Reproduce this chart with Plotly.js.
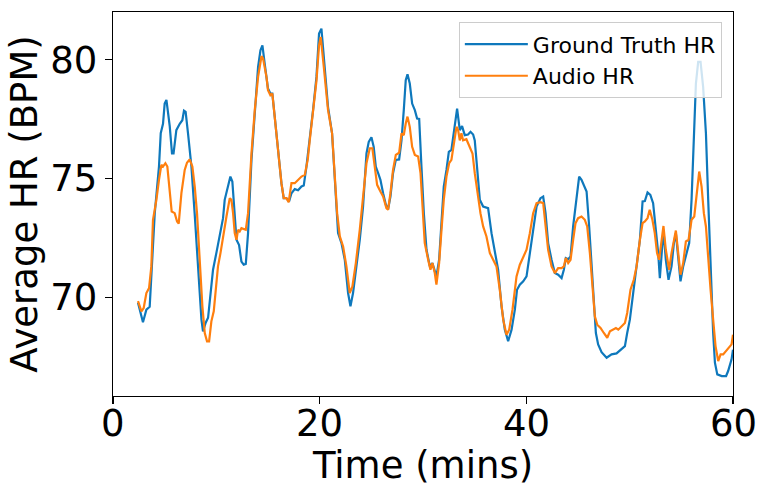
<!DOCTYPE html>
<html>
<head>
<meta charset="utf-8">
<script src="https://cdn.plot.ly/plotly-3.0.1.min.js"></script>
<style>html,body{margin:0;padding:0;background:#fff;}#chart{width:768px;height:498px;}</style>
</head>
<body>
<div id="chart"></div>
<script>
// Ground truth HR (minutes, BPM)
const gtTime = [2.42,2.9,3.23,3.55,4.04,4.45,4.62,4.84,5.0,5.17,5.49,5.71,5.86,6.13,6.46,6.71,6.87,7.03,7.26,7.59,7.9,8.23,8.56,8.71,8.97,9.2,9.36,9.68,10.0,10.33,10.65,10.81,11.13,11.36,11.55,11.78,11.95,12.2,12.43,12.65,12.85,13.07,13.4,13.72,14.04,14.27,14.46,14.68,15.0,15.23,15.42,15.65,15.97,16.3,16.52,16.78,17.04,17.27,17.59,17.91,18.24,18.46,18.72,19.04,19.36,19.69,19.94,20.17,20.49,20.81,21.2,21.46,21.78,22.11,22.43,22.75,22.98,23.23,23.56,23.88,24.2,24.53,24.75,25.01,25.23,25.43,25.66,25.88,26.14,26.4,26.62,26.85,27.1,27.37,27.69,27.92,28.14,28.33,28.5,28.72,28.95,29.21,29.43,29.63,29.85,30.08,30.34,30.66,30.91,31.14,31.3,31.56,31.79,32.01,32.27,32.5,32.75,32.98,33.3,33.56,33.78,34.04,34.36,34.6,34.85,35.01,35.27,35.5,35.82,36.3,36.63,36.95,37.27,37.6,37.92,38.24,38.57,38.89,39.1,39.37,39.7,40.02,40.34,40.66,40.99,41.37,41.63,41.86,42.11,42.44,42.76,43.08,43.41,43.63,43.82,44.05,44.28,44.53,44.76,44.95,45.11,45.34,45.57,45.83,46.08,46.31,46.53,46.73,46.95,47.28,47.77,48.25,48.73,49.22,49.54,49.76,50.02,50.34,50.67,50.99,51.25,51.47,51.73,52.0,52.27,52.5,52.76,52.92,53.08,53.27,53.5,53.76,54.05,54.28,54.47,54.7,54.92,55.18,55.5,55.76,55.99,56.22,56.41,56.63,56.86,57.11,57.38,57.6,57.83,58.08,58.25,58.48,58.91,59.33,59.53,59.86,60.0];
const gtHR = [69.77,68.95,69.48,69.6,73.54,75.5,76.9,77.3,78.15,78.3,77.2,76.05,76.05,77.03,77.3,77.45,77.85,77.8,76.9,75.5,73.54,71.3,69.06,68.57,68.93,69.14,69.9,71.16,71.86,72.7,73.33,74.1,74.66,75.08,74.87,73.54,72.42,72.2,71.5,71.37,71.4,72.7,75.78,77.73,79.69,80.39,80.6,79.83,78.78,78.57,78.57,77.6,76.05,74.8,74.17,74.17,74.03,74.38,74.55,74.5,74.66,74.7,75.5,76.6,77.87,79.27,81.09,81.3,79.69,78.0,76.9,75.2,72.7,72.28,71.58,70.18,69.62,70.18,71.3,72.42,73.82,76.05,76.54,76.73,76.33,75.5,75.22,74.94,74.38,73.9,73.7,74.24,75.22,75.78,75.8,76.6,77.87,79.13,79.38,78.99,78.15,77.87,77.52,77.5,75.5,73.54,72.0,71.3,71.44,71.16,70.88,71.58,72.98,74.66,75.36,76.12,76.2,77.03,77.94,77.03,77.2,76.82,76.85,76.96,76.85,76.6,75.36,74.1,73.82,73.75,72.7,71.86,71.16,69.62,68.64,68.15,68.64,69.48,70.32,70.53,70.67,70.88,71.86,72.98,73.82,74.17,74.24,73.54,72.28,71.58,71.02,70.95,70.81,71.16,71.65,71.6,71.72,72.98,73.82,74.52,75.08,74.94,74.73,74.45,72.98,71.3,69.62,68.5,68.02,67.69,67.46,67.6,67.64,67.81,67.95,68.5,69.06,70.18,71.3,72.42,74.03,74.05,74.41,74.31,73.96,72.98,71.86,70.81,71.86,72.84,71.58,70.74,71.3,72.28,72.7,71.58,70.67,71.3,71.86,72.28,74.1,76.6,78.99,79.9,79.9,78.85,76.9,74.1,71.3,68.5,67.25,66.76,66.69,66.69,66.9,67.39,67.8];

// Audio-estimated HR (minutes, BPM)
const audioTime = [2.42,2.75,2.97,3.23,3.49,3.71,3.87,4.2,4.45,4.68,4.84,5.07,5.26,5.49,5.68,5.97,6.2,6.36,6.62,6.94,7.16,7.42,7.68,7.91,8.13,8.39,8.65,8.88,9.1,9.3,9.52,9.75,9.94,10.16,10.4,10.65,10.98,11.3,11.46,11.62,11.78,11.95,12.1,12.26,12.43,12.85,13.07,13.4,13.72,14.04,14.37,14.52,14.85,15.0,15.23,15.42,15.65,15.97,16.3,16.52,16.78,17.0,17.27,17.59,17.91,18.24,18.56,18.85,19.04,19.36,19.69,19.94,20.1,20.4,20.81,21.2,21.46,21.69,21.95,22.27,22.59,22.91,23.17,23.5,23.88,24.2,24.53,24.85,25.1,25.33,25.56,25.88,26.14,26.46,26.62,26.85,27.1,27.37,27.69,27.92,28.14,28.33,28.5,28.72,28.95,29.21,29.53,29.76,29.95,30.17,30.5,30.72,30.91,31.14,31.3,31.56,31.79,32.01,32.27,32.53,32.75,32.98,33.24,33.4,33.56,33.72,33.88,34.2,34.53,34.79,35.01,35.27,35.56,35.82,36.14,36.47,36.79,37.11,37.43,37.76,38.08,38.34,38.66,39.05,39.37,39.7,40.02,40.34,40.66,40.99,41.37,41.63,41.86,42.11,42.44,42.76,43.08,43.41,43.63,43.82,44.05,44.28,44.53,44.76,45.01,45.34,45.66,45.89,46.15,46.4,46.63,46.86,47.18,47.5,47.83,48.09,48.41,48.67,48.9,49.22,49.54,49.76,50.08,50.4,50.67,50.99,51.25,51.47,51.73,51.94,52.2,52.43,52.65,52.85,53.08,53.27,53.5,53.82,54.05,54.28,54.47,54.7,54.92,55.18,55.44,55.7,55.99,56.25,56.47,56.73,56.96,57.18,57.38,57.6,57.83,58.08,58.31,58.57,58.8,59.05,59.33,59.53,59.86,60.0];
const audioHR = [69.84,69.41,69.55,70.18,70.39,71.3,73.26,74.1,74.94,75.57,75.5,75.64,75.5,74.52,73.61,73.54,73.19,73.1,74.38,75.36,75.66,75.8,75.5,74.66,73.54,71.58,69.62,68.5,68.15,68.15,68.99,69.41,70.18,71.3,71.86,72.56,73.4,74.17,74.1,73.54,72.7,72.42,72.84,72.77,72.91,72.84,73.54,76.05,77.87,79.27,80.14,80.05,79.27,78.71,78.5,78.57,77.6,76.05,74.8,74.17,74.17,74.0,74.8,74.8,74.94,75.08,75.15,75.8,76.6,77.8,79.1,80.6,80.95,79.69,77.87,76.9,75.1,73.54,72.56,72.14,71.3,70.18,70.46,71.44,72.84,74.1,75.64,76.27,76.27,75.5,74.73,74.45,74.24,73.75,73.68,74.38,75.36,75.99,76.08,76.9,76.82,77.31,77.6,77.17,76.33,75.99,75.92,75.22,73.82,72.28,71.58,71.16,71.44,71.02,70.53,71.44,72.84,74.1,75.08,75.64,75.78,76.48,77.17,77.03,76.6,76.9,76.6,76.65,76.33,76.05,75.22,74.38,73.54,72.98,72.56,71.86,71.58,71.3,70.32,69.06,68.43,68.64,69.48,70.88,71.37,71.72,72.0,72.7,73.54,73.96,74.0,73.96,72.98,72.0,71.3,71.02,71.23,71.23,71.3,71.65,71.44,71.58,72.42,73.12,73.33,73.4,73.26,72.98,71.86,70.46,69.2,68.85,68.71,68.5,68.3,68.57,68.64,68.71,68.64,68.8,68.92,69.34,70.32,70.74,71.3,72.42,73.12,73.19,73.33,73.68,73.26,72.7,71.86,71.58,72.42,73.0,72.0,71.16,71.86,72.42,72.81,71.86,70.95,71.44,72.35,72.42,73.26,73.4,74.24,75.29,74.66,73.54,72.98,71.58,70.32,69.06,67.95,67.32,67.6,67.6,67.74,67.88,68.02,68.43];

const xTicks = [0, 20, 40, 60];
const yTicks = [70, 75, 80];
const seriesNames = ["Ground Truth HR", "Audio HR"];

const FONT = "DejaVu Sans, sans-serif";

const traces = [
  {x: gtTime, y: gtHR, name: seriesNames[0], type: "scatter", mode: "lines",
   line: {color: "#0e78bc", width: 2.2}},
  {x: audioTime, y: audioHR, name: seriesNames[1], type: "scatter", mode: "lines",
   line: {color: "#ff7f0e", width: 2.2}}
];

const axisCommon = {
  showgrid: false, zeroline: false,
  showline: true, linecolor: "#000", linewidth: 1.2, mirror: true,
  ticks: "outside", ticklen: 7, tickwidth: 1.2, tickcolor: "#000",
  tickfont: {family: FONT, size: 37, color: "#000"}
};

// x tick labels placed via the x scale (annotations), closer to the axis like the reference
const xTickLabels = xTicks.map(v => ({
  x: v, xref: "x", y: 0, yref: "paper", yanchor: "top", yshift: -4,
  text: String(v), showarrow: false,
  font: {family: FONT, size: 37, color: "#000"}
}));

const layout = {
  width: 768, height: 498,
  margin: {l: 113, r: 35, t: 12, b: 102},
  paper_bgcolor: "#fff", plot_bgcolor: "#fff",
  showlegend: true,
  xaxis: Object.assign({}, axisCommon, {
    range: [0, 60], tickmode: "array", tickvals: xTicks, ticktext: xTicks.map(String),
    showticklabels: false,
    title: {text: "Time (mins)", font: {family: FONT, size: 37, color: "#000"}, standoff: 48},
    automargin: false
  }),
  yaxis: Object.assign({}, axisCommon, {
    range: [65.85, 82.0], tickmode: "array", tickvals: yTicks, ticktext: yTicks.map(String),
    title: {text: "Average HR (BPM)", font: {family: FONT, size: 37, color: "#000"}, standoff: 1},
    automargin: false
  }),
  annotations: xTickLabels,
  legend: {
    x: 0.982, y: 0.973, xanchor: "right", yanchor: "top",
    bgcolor: "rgba(255,255,255,0.8)", bordercolor: "#cccccc", borderwidth: 1,
    itemwidth: 63,
    font: {family: FONT, size: 22, color: "#000"}
  }
};

Plotly.newPlot("chart", traces, layout, {staticPlot: true, displayModeBar: false});
</script>
</body>
</html>
